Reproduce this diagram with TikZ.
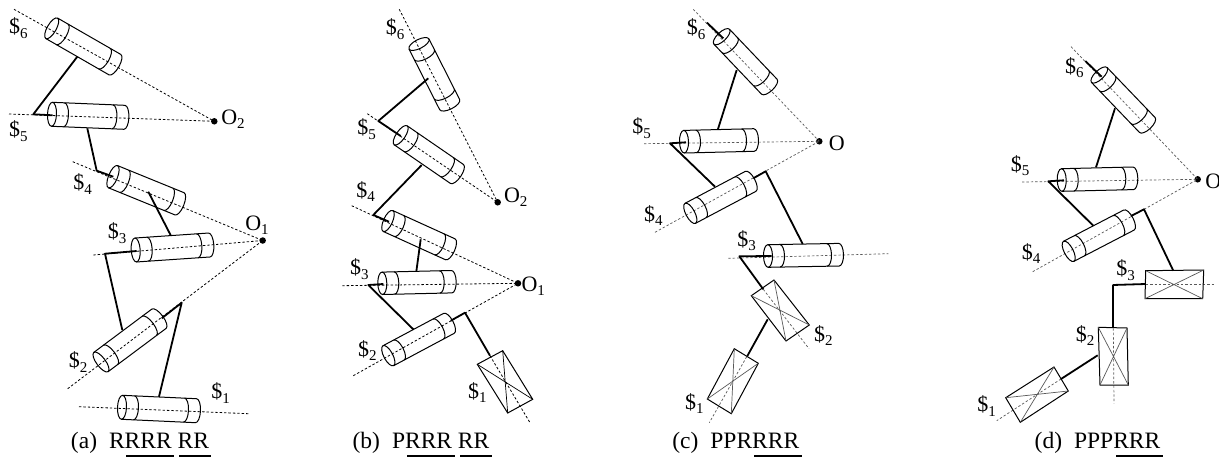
\documentclass[tikz,border=0pt]{standalone}
\usepackage{fontspec}
\setmainfont{Liberation Serif}
\usetikzlibrary{calc}
\newcommand\cyl[4]{%
  \coordinate (#1a) at (#2);
  \coordinate (#1b) at (#3);
  \path let \p1=($(#1b)-(#1a)$), \n1={atan2(\y1,\x1)}, \n2={veclen(\x1,\y1)} in
    \pgfextra{\pgfmathsetmacro\cylang{\n1}\pgfmathsetmacro\cyllen{\n2}\xdef\cylA{\cylang}\xdef\cylL{\cyllen}};
  \begin{scope}[shift={(#1a)},rotate=\cylA,x=1pt,y=1pt]
    \pgfmathsetmacro\cylE{\cylL-12}
    \draw[body] (0,0) ellipse[x radius=4.5,y radius=#4];
    \draw[body] (0,#4) -- (\cylL,#4) arc[start angle=90,end angle=-90,x radius=4.5,y radius=#4] -- (0,-#4);
    \draw[body] (12,#4) arc[start angle=90,end angle=-90,x radius=4.5,y radius=#4];
    \draw[body] (\cylE,#4) arc[start angle=90,end angle=-90,x radius=4.5,y radius=#4];
  \end{scope}}
\newcommand\prism[6]{%
  \coordinate (#1p) at (#2); \coordinate (#1q) at (#3);
  \coordinate (#1r) at (#4); \coordinate (#1s) at (#5);
  \draw[body] (#1p) -- (#1q) -- (#1r) -- (#1s) -- cycle;
  \draw[line width=0.7pt,#6] (#1p) -- (#1r) (#1q) -- (#1s);}
\newcommand\lbl[4]{\node[lab] (#1) at (#2) {\$\raisebox{-4.5pt}{\fontsize{15}{15}\selectfont #3}};}
\newcommand\olbl[3]{\node[lab] (#1) at (#2) {O\raisebox{-4.5pt}{\fontsize{15}{15}\selectfont #3}};}
\tikzset{
  body/.style={line width=1pt,black},
  axis/.style={line width=0.8pt,black,dash pattern=on 2.4pt off 2pt},
  axisg/.style={line width=0.7pt,black!65,dash pattern=on 2.4pt off 2pt},
  linkbar/.style={line width=1.8pt,black,line join=round},
  ubar/.style={line width=1.8pt,black},
  dot/.style={circle,fill=black,inner sep=0pt,minimum size=6.5pt},
  lab/.style={inner sep=0pt,font=\fontsize{22}{24}\selectfont},
  captext/.style={inner sep=0pt,font=\fontsize{23.5}{28}\selectfont},
}
\begin{document}
\begin{tikzpicture}[x=1pt,y=-1pt]
\useasboundingbox (0,0) rectangle (1219,461);
\clip (0,0) rectangle (1219,461);
\fill[white] (0,0) rectangle (1219,461);
% ---------- (a)
\node[dot] (aO2) at (214.3,121.3) {};
\node[dot] (aO1) at (262.7,240.5) {};
\coordinate (ax6) at (14,9.3); \coordinate (ax5) at (9,114);
\coordinate (ax4) at (72.7,161.7); \coordinate (ax3) at (93.3,255);
\coordinate (ax2) at (67.7,388.7); \coordinate (ax1s) at (79,406.7); \coordinate (ax1e) at (248.3,413.7);
\draw[axis] (ax6) -- (aO2.center);
\draw[axis] (ax5) -- (aO2.center);
\draw[axis] (ax4) -- (aO1.center);
\draw[axis] (ax3) -- (aO1.center);
\draw[axis] (ax2) -- (aO1.center);
\draw[axis] (ax1s) -- (ax1e);
\cyl{ac6}{51.7,28.3}{115,64.7}{11.8}
\cyl{ac5}{52,114.3}{124.4,117.3}{12}
\cyl{ac4}{113,176.7}{179.5,203.8}{12}
\cyl{ac3}{135.7,250}{209.3,245}{12}
\cyl{ac2}{101,362}{159,318.7}{12}
\cyl{ac1}{122,407.3}{196,410.7}{12}
\coordinate (al1) at (77.3,56.7); \coordinate (al2) at (33.3,114.3); \coordinate (al3) at (52.7,115.3);
\draw[linkbar] (al1) -- (al2) -- (al3);
\coordinate (al4) at (87.3,128.3); \coordinate (al5) at (96.7,170.7); \coordinate (al6) at (113.3,176.7);
\draw[linkbar] (al4) -- (al5) -- (al6);
\coordinate (al7) at (148.3,191.7); \coordinate (al8) at (170.7,235.3);
\draw[linkbar] (al7) -- (al8);
\coordinate (al9) at (136.7,251); \coordinate (al10) at (105,253.7); \coordinate (al11) at (122.3,330);
\draw[linkbar] (al9) -- (al10) -- (al11);
\coordinate (al12) at (161.7,318.3); \coordinate (al13) at (181.7,302.7); \coordinate (al14) at (159,396.7);
\draw[linkbar] (al12) -- (al13) -- (al14);
\lbl{a6}{18.3,28.3}{6}{}
\lbl{a5}{18.3,131}{5}{}
\lbl{a4}{82.7,184}{4}{}
\lbl{a3}{117,233}{3}{}
\lbl{a2}{78,362}{2}{}
\lbl{a1}{220.7,393}{1}{}
\olbl{aL2}{233,119}{2}
\olbl{aL1}{257,225}{1}
\node[captext] (capa) at (140,443) {(a)\hspace{12pt}RRRR RR};
\coordinate (au1) at (126,456); \coordinate (au2) at (174,456);
\coordinate (au3) at (179,456); \coordinate (au4) at (210.7,456);
\draw[ubar] (au1) -- (au2); \draw[ubar] (au3) -- (au4);
% ---------- (b)
\node[dot] (bO2) at (497.7,202.3) {};
\node[dot] (bO1) at (518,283.3) {};
\coordinate (bx6) at (399.3,9.3); \coordinate (bx5) at (367.3,113.7);
\coordinate (bx4) at (351.7,205.7); \coordinate (bx3) at (342.3,285.7);
\coordinate (bx2) at (353.3,375.7); \coordinate (bx1s) at (490,355.7); \coordinate (bx1e) at (530,422.7);
\draw[axis] (bx6) -- (bO2.center);
\draw[axis] (bx5) -- (bO2.center);
\draw[axis] (bx4) -- (bO1.center);
\draw[axis] (bx3) -- (bO1.center);
\draw[axis] (bx2) -- (bO1.center);
\draw[axis] (bx1s) -- (bx1e);
\cyl{bc6}{419,44}{449.7,104.7}{11.2}
\cyl{bc5}{400.7,135.3}{457,174}{11.5}
\cyl{bc4}{388,221}{450.3,249.3}{11.5}
\cyl{bc3}{382.3,283.3}{451.7,281.7}{11.2}
\cyl{bc2}{388.3,355.7}{449,323.3}{11.3}
\prism{bbox1}{477.3,364.3}{502.7,350.7}{532.7,399.3}{507.7,413}{black}
\coordinate (bl1) at (428.3,78.3); \coordinate (bl2) at (378.3,121); \coordinate (bl3) at (400.7,136);
\draw[linkbar] (bl1) -- (bl2) -- (bl3);
\coordinate (bl4) at (421.7,165); \coordinate (bl5) at (373.3,215); \coordinate (bl6) at (389,221.7);
\draw[linkbar] (bl4) -- (bl5) -- (bl6);
\coordinate (bl7) at (420.7,239.3); \coordinate (bl8) at (416.3,271.7);
\draw[linkbar] (bl7) -- (bl8);
\coordinate (bl9) at (383.3,284); \coordinate (bl10) at (368.3,285); \coordinate (bl11) at (413.3,329.3);
\draw[linkbar] (bl9) -- (bl10) -- (bl11);
\coordinate (bl12) at (450.7,320.7); \coordinate (bl13) at (465,312.7); \coordinate (bl14) at (490,355.7);
\draw[linkbar] (bl12) -- (bl13) -- (bl14);
\lbl{b6}{395,29.3}{6}{}
\lbl{b5}{366.7,129}{5}{}
\lbl{b4}{365.7,191.7}{4}{}
\lbl{b3}{359.3,269.3}{3}{}
\lbl{b2}{367.3,350.7}{2}{}
\lbl{b1}{477.3,392.7}{1}{}
\olbl{bL2}{515.7,197}{2}
\olbl{bL1}{533.3,286}{1}
\node[captext] (capb) at (421,443) {(b)\hspace{12pt}PRRR RR};
\coordinate (bu1) at (407.3,456); \coordinate (bu2) at (455,456);
\coordinate (bu3) at (460,456); \coordinate (bu4) at (491.7,456);
\draw[ubar] (bu1) -- (bu2); \draw[ubar] (bu3) -- (bu4);
% ---------- (c)
\node[dot] (cO) at (819.3,141.3) {};
\coordinate (cx6) at (693.3,9.3); \coordinate (cx5) at (644,143.7);
\coordinate (cx4) at (655,232.3); \coordinate (cx3s) at (728.3,258.3); \coordinate (cx3e) at (888.3,253.7);
\coordinate (cx2s) at (763.3,289.3); \coordinate (cx2e) at (809,348.7);
\coordinate (cx1s) at (746.7,356.7); \coordinate (cx1e) at (709.3,422.7);
\draw[axisg] (cx6) -- (cO.center);
\draw[axisg] (cx5) -- (cO.center);
\draw[axisg] (cx4) -- (cO.center);
\draw[axisg] (cx3s) -- (cx3e);
\draw[axisg] (cx2s) -- (cx2e);
\draw[axisg] (cx1s) -- (cx1e);
\cyl{cc6}{721.7,36.7}{769.3,86.7}{10.8}
\cyl{cc5}{684,141.7}{754,140}{11.3}
\cyl{cc4}{690.3,213.3}{750.7,181.3}{11.3}
\cyl{cc3}{768,256}{839,254.7}{11.3}
\prism{cbox2}{751.3,295.7}{774,280}{809.3,325}{786,341}{black!65}
\prism{cbox1}{734.3,348.7}{758.3,363.3}{731.3,413.7}{707.3,399}{black!65}
\coordinate (cl1) at (707,22.7); \coordinate (cl2) at (723.3,38.3);
\draw[linkbar] (cl1) -- (cl2);
\coordinate (cl3) at (736.7,70); \coordinate (cl4) at (718,129);
\draw[linkbar] (cl3) -- (cl4);
\coordinate (cl5) at (686,142.3); \coordinate (cl6) at (670,143.3); \coordinate (cl7) at (715,186.7);
\draw[linkbar] (cl5) -- (cl6) -- (cl7);
\coordinate (cl8) at (753.3,178.3); \coordinate (cl9) at (765.7,171.3); \coordinate (cl10) at (802.7,244);
\draw[linkbar] (cl8) -- (cl9) -- (cl10);
\coordinate (cl11) at (771.7,256); \coordinate (cl12) at (739.3,256.3); \coordinate (cl13) at (763.3,289.3);
\draw[linkbar] (cl11) -- (cl12) -- (cl13);
\coordinate (cl14) at (767.7,319.3); \coordinate (cl15) at (747.3,356);
\draw[linkbar] (cl14) -- (cl15);
\lbl{c6}{696,29.3}{6}{}
\lbl{c5}{641.7,128.3}{5}{}
\lbl{c4}{653.3,215.3}{4}{}
\lbl{c3}{746.7,240.7}{3}{}
\lbl{c2}{823.3,335.7}{2}{}
\lbl{c1}{694.3,403.3}{1}{}
\node[lab] (cL) at (836.7,143.3) {O};
\node[captext] (capc) at (735.8,443) {(c)\hspace{12pt}PPRRRR};
\coordinate (cu1) at (754,456); \coordinate (cu2) at (801.7,456);
\draw[ubar] (cu1) -- (cu2);
% ---------- (d)
\node[dot] (dO) at (1197.7,179.3) {};
\coordinate (dx6) at (1071,46.7); \coordinate (dx5) at (1022,182);
\coordinate (dx4) at (1032.7,271.7); \coordinate (dx3s) at (1145.7,284.3); \coordinate (dx3e) at (1215,284.3);
\coordinate (dx2s) at (1113.3,328.3); \coordinate (dx2e) at (1114,403.3);
\coordinate (dx1s) at (1061,379); \coordinate (dx1e) at (996.7,420.7);
\draw[axisg] (dx6) -- (dO.center);
\draw[axisg] (dx5) -- (dO.center);
\draw[axisg] (dx4) -- (dO.center);
\draw[axisg] (dx3s) -- (dx3e);
\draw[axisg] (dx2s) -- (dx2e);
\draw[axisg] (dx1s) -- (dx1e);
\cyl{dc6}{1099.3,75}{1147.3,125}{10.8}
\cyl{dc5}{1061.7,180}{1133.3,178.3}{11.3}
\cyl{dc4}{1068.7,251.3}{1129,220}{11.3}
\prism{dbox3}{1145.7,270.7}{1203.7,270}{1202.7,298.7}{1145,298.7}{black!65}
\prism{dbox2}{1098.3,327.3}{1127,328}{1128.3,385}{1100,385}{black!65}
\prism{dbox1}{1005.7,397.7}{1054,367}{1068.3,391}{1020.3,422.3}{black!65}
\coordinate (dl1) at (1085.3,61); \coordinate (dl2) at (1101.7,76.7);
\draw[linkbar] (dl1) -- (dl2);
\coordinate (dl3) at (1115,108.3); \coordinate (dl4) at (1096,167.3);
\draw[linkbar] (dl3) -- (dl4);
\coordinate (dl5) at (1064,180.3); \coordinate (dl6) at (1048.3,181.3); \coordinate (dl7) at (1093.3,225.7);
\draw[linkbar] (dl5) -- (dl6) -- (dl7);
\coordinate (dl8) at (1131,216); \coordinate (dl9) at (1144,209.3); \coordinate (dl10) at (1173.3,270.7);
\draw[linkbar] (dl8) -- (dl9) -- (dl10);
\coordinate (dl11) at (1145.7,284); \coordinate (dl12) at (1112.7,285); \coordinate (dl13) at (1112.7,327.7);
\draw[linkbar] (dl11) -- (dl12);
\draw[line width=2.4pt] (dl12) -- (dl13);
\coordinate (dl14) at (1097.7,355.3); \coordinate (dl15) at (1061,379);
\draw[linkbar] (dl14) -- (dl15);
\lbl{d6}{1074.3,67.7}{6}{}
\lbl{d5}{1020,165.7}{5}{}
\lbl{d4}{1031,253.3}{4}{}
\lbl{d3}{1125.7,270}{3}{}
\lbl{d2}{1085,335.7}{2}{}
\lbl{d1}{986.7,406}{1}{}
\node[lab] (dL) at (1213.3,181.7) {O};
\node[captext] (capd) at (1097.5,443) {(d)\hspace{12pt}PPPRRR};
\coordinate (du1) at (1116,456); \coordinate (du2) at (1163.3,456);
\draw[ubar] (du1) -- (du2);
\end{tikzpicture}
\end{document}
